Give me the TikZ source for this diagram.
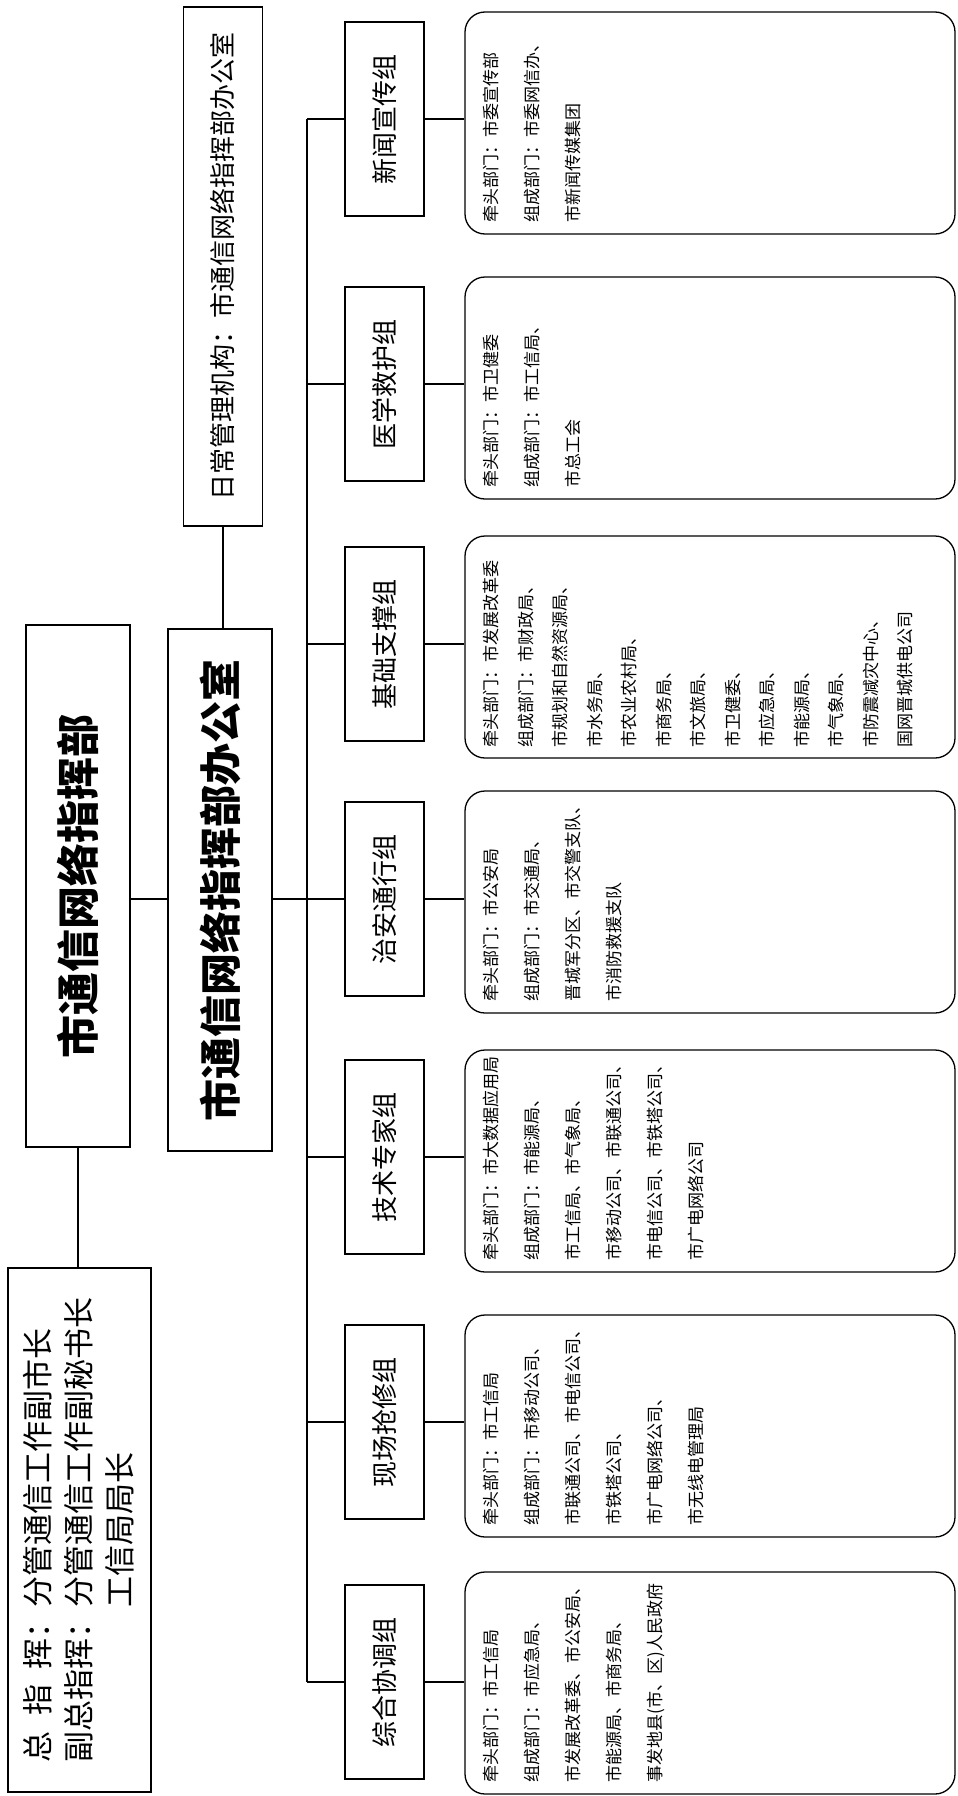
\documentclass[tikz,border=0pt]{standalone}
\usepackage{fontspec}
\setmainfont{Noto Sans CJK SC}
\begin{document}
\begin{tikzpicture}[x=1pt,y=1pt,
  box/.style={draw, line width=1.3pt, inner sep=0pt},
  grp/.style={box, minimum width=79pt, minimum height=194pt, font=\fontsize{26}{26}\selectfont},
  det/.style={draw, line width=1.3pt, rounded corners=20pt, minimum width=490pt, minimum height=222pt, inner sep=0pt},
  dtxt/.style={rotate=90, anchor=north west, align=left, inner sep=0pt, font=\fontsize{17}{41}\selectfont},
  conn/.style={line width=1.1pt}]
\useasboundingbox (0,0) rectangle (958,-1796);

% top level boxes
\node[box, minimum width=79pt, minimum height=519pt, font=\fontsize{26}{26}\selectfont] (rc) at (223,-266.5)
  {\rotatebox{90}{日常管理机构：市通信网络指挥部办公室}};
\node[box, minimum width=104pt, minimum height=522pt, font=\fontsize{43}{43}\selectfont\bfseries] (title) at (78,-886)
  {\rotatebox{90}{市通信网络指挥部}};
\node[box, minimum width=104pt, minimum height=522pt, font=\fontsize{42}{42}\selectfont\bfseries] (office) at (220,-890)
  {\rotatebox{90}{市通信网络指挥部办公室}};
\node[box, minimum width=143pt, minimum height=524pt] (cmd) at (79.5,-1530) {};
\node[dtxt, font=\fontsize{31}{41}\selectfont] (cmdtxt) at ([shift={(15.5pt,30pt)}]cmd.south west)
  {\makebox[4em][s]{总\hfill 指\hfill 挥}：分管通信工作副市长\\副总指挥：分管通信工作副秘书长\\\hspace*{5em}工信局局长};

% groups
\node[grp] (g1) at (384.5,-119)  {\rotatebox{90}{新闻宣传组}};
\node[grp] (g2) at (384.5,-384)  {\rotatebox{90}{医学救护组}};
\node[grp] (g3) at (384.5,-644)  {\rotatebox{90}{基础支撑组}};
\node[grp] (g4) at (384.5,-899)  {\rotatebox{90}{治安通行组}};
\node[grp] (g5) at (384.5,-1157) {\rotatebox{90}{技术专家组}};
\node[grp] (g6) at (384.5,-1422) {\rotatebox{90}{现场抢修组}};
\node[grp] (g7) at (384.5,-1682) {\rotatebox{90}{综合协调组}};

% detail boxes
\node[det] (d1) at (710,-123)  {};
\node[det] (d2) at (710,-388)  {};
\node[det] (d3) at (710,-647)  {};
\node[det] (d4) at (710,-902)  {};
\node[det] (d5) at (710,-1161) {};
\node[det] (d6) at (710,-1426) {};
\node[det] (d7) at (710,-1683) {};

\node[dtxt] (t1) at ([shift={(19pt,12pt)}]d1.south west)
  {牵头部门：市委宣传部\\组成部门：市委网信办、\\市新闻传媒集团};
\node[dtxt] (t2) at ([shift={(19pt,12pt)}]d2.south west)
  {牵头部门：市卫健委\\组成部门：市工信局、\\市总工会};
\node[dtxt, font=\fontsize{17}{34.5}\selectfont] (t3) at ([shift={(19pt,11pt)}]d3.south west)
  {牵头部门：市发展改革委\\组成部门：市财政局、\\市规划和自然资源局、\\市水务局、\\市农业农村局、\\市商务局、\\市文旅局、\\市卫健委、\\市应急局、\\市能源局、\\市气象局、\\市防震减灾中心、\\国网晋城供电公司};
\node[dtxt] (t4) at ([shift={(19pt,12pt)}]d4.south west)
  {牵头部门：市公安局\\组成部门：市交通局、\\晋城军分区、市交警支队、\\市消防救援支队};
\node[dtxt] (t5) at ([shift={(19pt,12pt)}]d5.south west)
  {牵头部门：市大数据应用局\\组成部门：市能源局、\\市工信局、市气象局、\\市移动公司、市联通公司、\\市电信公司、市铁塔公司、\\市广电网络公司};
\node[dtxt] (t6) at ([shift={(19pt,12pt)}]d6.south west)
  {牵头部门：市工信局\\组成部门：市移动公司、\\市联通公司、市电信公司、\\市铁塔公司、\\市广电网络公司、\\市无线电管理局};
\node[dtxt] (t7) at ([shift={(19pt,12pt)}]d7.south west)
  {牵头部门：市工信局\\组成部门：市应急局、\\市发展改革委、市公安局、\\市能源局、市商务局、\\事发地县(市、区)人民政府};

% connectors
\coordinate (bustop) at (307,-119);
\coordinate (busbot) at (307,-1682);
\draw[conn] (bustop) -- (busbot);
\foreach \i in {1,...,7}{
  \draw[conn] (g\i.west -| bustop) -- (g\i.west);
  \draw[conn] (g\i.east) -- (g\i.east -| d\i.west);
}
\draw[conn] (title.east |- g4.west) -- (office.west |- g4.west);
\draw[conn] (office.east |- g4.west) -- (g4.west -| bustop);
\draw[conn] (rc.south) -- (rc.south |- office.north);
\draw[conn] (title.south) -- (title.south |- cmd.north);
\end{tikzpicture}
\end{document}
